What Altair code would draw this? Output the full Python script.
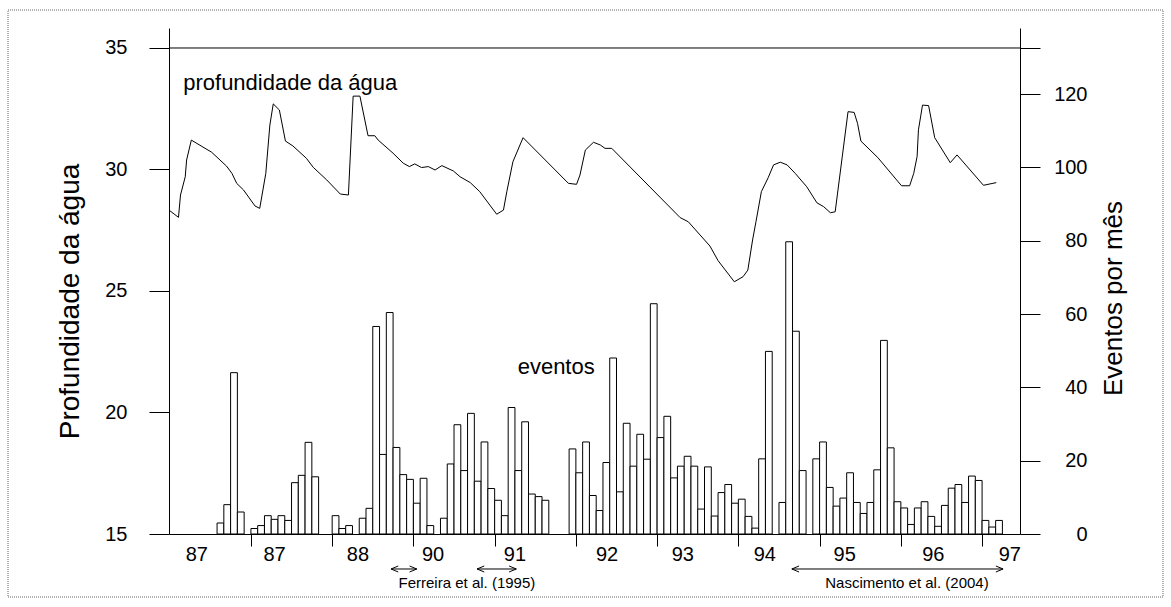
import altair as alt
import pandas as pd

# ---------------- data ----------------
# monthly events (month index from start of record)
bar_months = [7, 8, 9, 10, 12, 13, 14, 15, 16, 17, 18, 19, 20, 21, 24, 25, 26, 28, 29, 30,
              31, 32, 33, 34, 35, 36, 37, 38, 40, 41, 42, 43, 44, 45, 46, 47, 48, 49, 50, 51,
              52, 53, 54, 55, 59, 60, 61, 62, 63, 64, 65, 66, 67, 68, 69, 70, 71, 72, 73, 74,
              75, 76, 77, 78, 79, 80, 81, 82, 83, 84, 85, 86, 87, 88, 90, 91, 92, 93, 95, 96,
              97, 98, 99, 100, 101, 102, 103, 104, 105, 106, 107, 108, 109, 110, 111, 112, 113,
              114, 115, 116, 117, 118, 119, 120, 121, 122]
bar_events = [3, 8, 44, 6, 1.5, 2.3, 5, 4, 5, 3.7, 14, 16, 25, 15.6, 5, 1.5, 2.3, 4.3, 7, 56.6,
              21.7, 60.4, 23.6, 16.2, 14.9, 8.4, 15.2, 2.3, 4.3, 19.1, 29.8, 17.3, 32.9, 14.4, 25.1, 12.4, 9.2, 5, 34.5, 17.3,
              30.6, 10.9, 10.2, 9.2, 23.2, 16.7, 25.1, 10.5, 6.4, 19.5, 48, 11.5, 30.2, 18.5, 27.2, 20.4, 62.8, 26.3, 32.1, 15.3,
              18.5, 21.2, 18.5, 6.8, 18.3, 4.9, 11.3, 13.5, 8.4, 9.5, 4.8, 1.6, 20.5, 49.8, 8.6, 79.7, 55.3, 17.3, 20.5, 25.1,
              12.7, 7.6, 9.8, 16.7, 8.6, 5.6, 8.6, 17.5, 52.8, 23.5, 8.8, 7.1, 2.6, 7.1, 8.8, 4.8, 2.1,
              7.8, 12.5, 13.5, 8.6, 15.8, 14.6, 3.7, 1.9, 3.7]

# water depth line
line_month = [-0.1, 1.3, 1.6, 2.3, 2.5, 3.2, 6.2, 8.4, 9.2, 9.9, 10.9, 12.6, 13.3, 14.2, 14.8, 15.3,
              16.2, 17.1, 18.2, 20.2, 21.2, 23.2, 25.2, 26.4, 27.1, 28.1, 29.3, 30.3, 30.8, 33.0,
              34.5, 35.4, 36.2, 37.2, 38.2, 39.2, 40.2, 41.9, 42.9, 44.4, 45.8, 48.3, 49.3, 49.8,
              50.7, 52.2, 58.9, 60.1, 60.6, 61.4, 62.6, 63.6, 64.3, 65.3, 75.4, 76.6, 79.8, 81.0,
              83.4, 84.7, 85.4, 86.1, 86.6, 87.4, 88.4, 89.2, 90.2, 91.2, 92.4, 94.1, 95.6, 96.6,
              97.6, 98.3, 100.2, 101.1, 101.6, 102.1, 104.6, 108.1, 109.3, 109.9, 110.4, 110.6,
              111.2, 112.1, 113.0, 115.3, 116.3, 120.2, 122.1]
line_depth = [28.33, 28.03, 28.95, 29.70, 30.39, 31.21, 30.71, 30.14, 29.84, 29.43, 29.16, 28.50, 28.40,
              29.84, 31.83, 32.70, 32.45, 31.17, 30.97, 30.46, 30.09, 29.57, 28.99, 28.95, 33.02, 33.02,
              31.39, 31.39, 31.21, 30.67, 30.26, 30.12, 30.23, 30.08, 30.12, 29.98, 30.16, 29.94, 29.70,
              29.46, 29.09, 28.16, 28.33, 29.09, 30.32, 31.31, 29.43, 29.39, 29.77, 30.80, 31.12, 31.01,
              30.87, 30.87, 28.02, 27.85, 26.85, 26.25, 25.38, 25.59, 25.86, 27.10, 27.85, 29.09, 29.66,
              30.19, 30.30, 30.19, 29.84, 29.29, 28.63, 28.47, 28.22, 28.26, 32.38, 32.35, 31.90, 31.17,
              30.49, 29.33, 29.33, 29.84, 30.53, 31.63, 32.65, 32.63, 31.31, 30.28, 30.60, 29.35, 29.46]

# x axis: year ticks and year labels
tick_months = [12, 24, 36, 48, 60, 72, 84, 96, 108, 120]
year_label_pos = [4.0, 15.5, 27.8, 38.9, 51.0, 64.6, 75.8, 87.9, 99.7, 112.8, 124.1]
year_labels = ['87', '87', '88', '90', '91', '92', '93', '94', '95', '96', '97']

# study-period annotations
arrow_start = [32.7, 45.4, 91.9]
arrow_end = [36.5, 51.2, 123.1]
ref_texts = ['Ferreira et al. (1995)', 'Nascimento et al. (2004)']
ref_text_month = [43.9, 108.9]

# ---------------- chart ----------------
FONT = 'Liberation Sans'
W, H = 851, 506

xscale = alt.Scale(domain=[-0.1, 125.6], nice=False, zero=False)
yleft = alt.Scale(domain=[15, 35.823], nice=False, zero=False)
yright = alt.Scale(domain=[0, 138.0], nice=False, zero=False)

bar_df = pd.DataFrame({'start': bar_months, 'events': bar_events})
bar_df['end'] = bar_df['start'] + 1
line_df = pd.DataFrame({'month': line_month, 'depth': line_depth})

x_axis = alt.Axis(
    values=tick_months, labels=False, title=None,
    tickSize=12, tickColor='black', tickWidth=1,
    domainColor='black', domainWidth=1, grid=False, orient='bottom')

left_axis = alt.Axis(
    orient='left', values=[15, 20, 25, 30, 35], tickSize=20, tickColor='black',
    labelPadding=22, labelFontSize=20, labelFont=FONT, labelColor='black',
    domainColor='black', domainWidth=1, grid=False,
    title='Profundidade da água', titleFont=FONT, titleFontSize=28, titleFontWeight='normal',
    titleColor='black', titleAngle=270, titleX=-99, titleY=273,
    titleAlign='center', titleBaseline='middle')

right_axis = alt.Axis(
    orient='right', values=[0, 20, 40, 60, 80, 100, 120, 132.5],
    labelExpr="datum.value > 130 ? '' : datum.label",
    tickSize=20, tickColor='black', labelPadding=47, labelAlign='right',
    labelFontSize=20, labelFont=FONT, labelColor='black',
    domainColor='black', domainWidth=1, grid=False,
    title='Eventos por mês', titleFont=FONT, titleFontSize=26, titleFontWeight='normal',
    titleColor='black', titleAngle=270, titleX=93, titleY=270,
    titleAlign='center', titleBaseline='middle')

line = alt.Chart(line_df).mark_line(color='black', strokeWidth=1).encode(
    x=alt.X('month:Q', scale=xscale, axis=x_axis),
    y=alt.Y('depth:Q', scale=yleft, axis=left_axis),
)

top_df = pd.DataFrame({'lvl': [35]})
top_rule = alt.Chart(top_df).mark_rule(color='black', strokeWidth=1).encode(
    y=alt.Y('lvl:Q', scale=yleft, axis=None))

yr_df = pd.DataFrame({'m': year_label_pos, 'txt': year_labels, 'lvl': [14.14] * len(year_labels)})
years = alt.Chart(yr_df).mark_text(align='center', baseline='middle', fontSize=20,
                                   font=FONT, color='black').encode(
    x=alt.X('m:Q', scale=xscale, axis=None), y=alt.Y('lvl:Q', scale=yleft, axis=None),
    text='txt:N')

lbl_df = pd.DataFrame({'month': [2.0, 51.4], 'depth': [33.27, 21.57],
                       'txt': ['profundidade da água', 'eventos']})
labels = alt.Chart(lbl_df).mark_text(align='left', baseline='alphabetic', fontSize=22,
                                      font=FONT, color='black').encode(
    x=alt.X('month:Q', scale=xscale, axis=None),
    y=alt.Y('depth:Q', scale=yleft, axis=None),
    text='txt:N')

arr_df = pd.DataFrame({'s': arrow_start, 'e': arrow_end, 'lvl': [13.56] * 3})
arrows = alt.Chart(arr_df).mark_rule(color='black', strokeWidth=1).encode(
    x=alt.X('s:Q', scale=xscale, axis=None), x2='e:Q',
    y=alt.Y('lvl:Q', scale=yleft, axis=None))
head_l = alt.Chart(arr_df).mark_point(shape='M 2.4 -1 L 0 0 L 2.4 1', size=36, filled=False,
                                      color='black', strokeWidth=1, opacity=1).encode(
    x=alt.X('s:Q', scale=xscale, axis=None), y=alt.Y('lvl:Q', scale=yleft, axis=None))
head_r = alt.Chart(arr_df).mark_point(shape='M -2.4 -1 L 0 0 L -2.4 1', size=36, filled=False,
                                      color='black', strokeWidth=1, opacity=1).encode(
    x=alt.X('e:Q', scale=xscale, axis=None), y=alt.Y('lvl:Q', scale=yleft, axis=None))

ref_df = pd.DataFrame({'m': ref_text_month, 'txt': ref_texts, 'lvl': [12.98] * 2})
refs = alt.Chart(ref_df).mark_text(align='center', baseline='middle', fontSize=15,
                                   font=FONT, color='black').encode(
    x=alt.X('m:Q', scale=xscale, axis=None), y=alt.Y('lvl:Q', scale=yleft, axis=None),
    text='txt:N')

frame = alt.Chart(pd.DataFrame({'a': [0]})).mark_rect(
    fillOpacity=0, stroke='#666666', strokeWidth=1, strokeDash=[1, 1]).encode(
    x=alt.value(-161), x2=alt.value(994), y=alt.value(-18), y2=alt.value(569))

bars = alt.Chart(bar_df).mark_bar(fill='white', stroke='black', strokeWidth=1).encode(
    x=alt.X('start:Q', scale=xscale, axis=None), x2='end:Q',
    y=alt.Y('events:Q', scale=yright, axis=right_axis),
    y2=alt.datum(0),
)

chart = alt.layer(
    bars, line, top_rule, years, labels, arrows, head_l, head_r, refs, frame
).resolve_scale(x='independent', y='independent').properties(
    width=W, height=H,
    autosize=alt.AutoSizeParams(type='none'),
    padding={'left': 169, 'top': 28, 'right': 151, 'bottom': 73},
    background='white',
).configure(font=FONT, view=alt.ViewConfig(strokeWidth=0, stroke=None))

chart.save('out.html', embed_options={'renderer': 'svg', 'actions': False})
